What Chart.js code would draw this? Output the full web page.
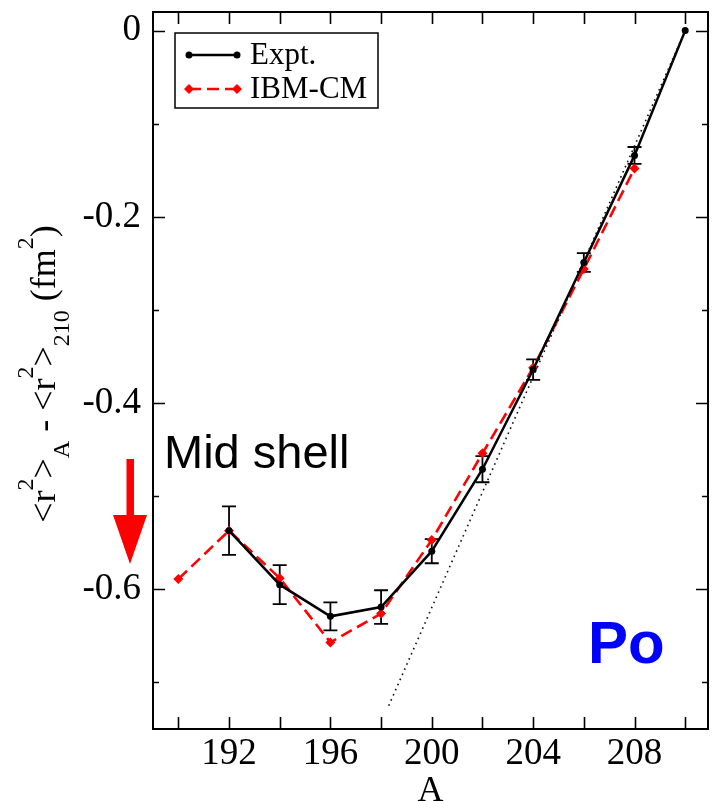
<!DOCTYPE html>
<html>
<head>
<meta charset="utf-8">
<script src="https://cdn.jsdelivr.net/npm/chart.js@4.4.1/dist/chart.umd.min.js"></script>
<style>
html, body { margin: 0; padding: 0; background: #fff; }
#wrap { width: 713px; height: 801px; position: relative; }
</style>
</head>
<body>
<div id="wrap"><canvas id="radii"></canvas></div>
<script>
// mass numbers and charge-radius differences (fm^2)
const exptA = [192, 194, 196, 198, 200, 202, 204, 206, 208, 210];
const exptVals = [-0.537, -0.595, -0.629, -0.619, -0.559, -0.471, -0.364, -0.249, -0.134, 0];
const exptErr = [0.026, 0.021, 0.015, 0.018, 0.013, 0.014, 0.011, 0.010, 0.009, 0];

const ibmA = [190, 192, 194, 196, 198, 200, 202, 204, 206, 208];
const ibmVals = [-0.589, -0.537, -0.588, -0.657, -0.626, -0.547, -0.454, -0.362, -0.256, -0.148];

// straight-line trend through the heavy end
const trendA = [198.3, 210];
const trendVals = [-0.725, 0];

const xTickLabels = [192, 196, 200, 204, 208];
const xTickMarks = [190, 192, 194, 196, 198, 200, 202, 204, 206, 208, 210];
const yTickLabels = [0, -0.2, -0.4, -0.6];
const yMinorTicks = [-0.1, -0.3, -0.5, -0.7];

const SERIF = '"Liberation Serif", "Times New Roman", serif';
const SANS = '"Liberation Sans", Arial, sans-serif';

const pts = (xs, ys) => xs.map((x, i) => ({ x, y: ys[i] }));

// frame + inward ticks on all four sides
const framePlugin = {
    id: 'frame',
    afterDraw(chart) {
        const { ctx, chartArea: a, scales: { x, y } } = chart;
        ctx.save();
        ctx.strokeStyle = '#000';
        ctx.lineWidth = 2;
        ctx.strokeRect(a.left, a.top, a.right - a.left, a.bottom - a.top);
        ctx.lineWidth = 1.6;
        ctx.beginPath();
        xTickMarks.forEach(v => {
            const px = Math.round(x.getPixelForValue(v)) + 0.5;
            ctx.moveTo(px, a.bottom); ctx.lineTo(px, a.bottom - 12);
            ctx.moveTo(px, a.top); ctx.lineTo(px, a.top + 12);
        });
        yTickLabels.forEach(v => {
            const py = Math.round(y.getPixelForValue(v)) + 0.5;
            ctx.moveTo(a.left, py); ctx.lineTo(a.left + 12, py);
            ctx.moveTo(a.right, py); ctx.lineTo(a.right - 12, py);
        });
        yMinorTicks.forEach(v => {
            const py = Math.round(y.getPixelForValue(v)) + 0.5;
            ctx.moveTo(a.left, py); ctx.lineTo(a.left + 6, py);
            ctx.moveTo(a.right, py); ctx.lineTo(a.right - 6, py);
        });
        ctx.stroke();
        ctx.restore();
    }
};

const errorBars = {
    id: 'errorBars',
    beforeDatasetsDraw(chart) {
        const { ctx, scales: { x, y } } = chart;
        ctx.save();
        ctx.strokeStyle = '#000';
        ctx.lineWidth = 1.8;
        ctx.beginPath();
        exptA.forEach((a, i) => {
            if (!exptErr[i]) return;
            const px = x.getPixelForValue(a);
            const top = y.getPixelForValue(exptVals[i] + exptErr[i]);
            const bot = y.getPixelForValue(exptVals[i] - exptErr[i]);
            ctx.moveTo(px, top); ctx.lineTo(px, bot);
            ctx.moveTo(px - 7, top); ctx.lineTo(px + 7, top);
            ctx.moveTo(px - 7, bot); ctx.lineTo(px + 7, bot);
        });
        ctx.stroke();
        ctx.restore();
    }
};

// boxed legend with line samples and end markers
const boxLegend = {
    id: 'boxLegend',
    afterDraw(chart) {
        const { ctx, chartArea: a } = chart;
        const bx = a.left + 22, by = a.top + 21, bw = 203, bh = 75;
        ctx.save();
        ctx.strokeStyle = '#000';
        ctx.lineWidth = 1.5;
        ctx.strokeRect(bx, by, bw, bh);
        const rows = chart.data.datasets.filter(d => d.inLegend);
        rows.forEach((d, i) => {
            const ry = by + 22 + i * 34;
            const x0 = bx + 14, x1 = bx + 62;
            ctx.strokeStyle = d.borderColor;
            ctx.lineWidth = d.borderWidth;
            ctx.setLineDash(d.borderDash || []);
            ctx.beginPath();
            ctx.moveTo(x0, ry); ctx.lineTo(x1, ry);
            ctx.stroke();
            ctx.setLineDash([]);
            ctx.fillStyle = d.pointBackgroundColor;
            [x0, x1].forEach(px => {
                ctx.beginPath();
                if (d.pointStyle === 'rectRot') {
                    const r = d.pointRadius;
                    ctx.moveTo(px, ry - r); ctx.lineTo(px + r, ry);
                    ctx.lineTo(px, ry + r); ctx.lineTo(px - r, ry);
                    ctx.closePath();
                } else {
                    ctx.arc(px, ry, d.pointRadius, 0, Math.PI * 2);
                }
                ctx.fill();
            });
            ctx.fillStyle = '#000';
            ctx.font = '31px ' + SERIF;
            ctx.textBaseline = 'middle';
            ctx.fillText(d.label, bx + 75, ry + 1);
        });
        ctx.restore();
    }
};

// y title with super/subscripts, read bottom to top
const yTitle = {
    id: 'yTitle',
    afterDraw(chart) {
        const { ctx } = chart;
        const parts = [
            ['<r', 0], ['2', 1], ['>', 0], ['A', -1], [' - <r', 0], ['2', 1], ['>', 0],
            ['210', -1], [' (fm', 0], ['2', 1], [')', 0]
        ];
        const big = '36px ' + SERIF, small = '24px ' + SERIF;
        ctx.save();
        let total = 0;
        parts.forEach(([t, k]) => { ctx.font = k ? small : big; total += ctx.measureText(t).width; });
        ctx.translate(55, 374);
        ctx.rotate(-Math.PI / 2);
        ctx.fillStyle = '#000';
        ctx.textBaseline = 'alphabetic';
        let cx = -total / 2;
        parts.forEach(([t, k]) => {
            ctx.font = k ? small : big;
            const dy = k === 1 ? -22 : k === -1 ? 14 : 0;
            ctx.fillText(t, cx, dy);
            cx += ctx.measureText(t).width;
        });
        ctx.restore();
    }
};

const notes = {
    id: 'notes',
    afterDraw(chart) {
        const { ctx } = chart;
        ctx.save();
        ctx.fillStyle = '#000';
        ctx.font = '47px ' + SANS;
        ctx.textBaseline = 'alphabetic';
        ctx.fillText('Mid shell', 164, 468);

        ctx.fillStyle = '#ff0000';
        ctx.beginPath();
        ctx.moveTo(126.5, 459); ctx.lineTo(134, 459); ctx.lineTo(134, 515);
        ctx.lineTo(147, 515); ctx.lineTo(130, 564); ctx.lineTo(113, 515);
        ctx.lineTo(126.5, 515);
        ctx.closePath();
        ctx.fill();

        ctx.fillStyle = '#0000ff';
        ctx.font = 'bold 60px ' + SANS;
        ctx.fillText('Po', 588, 663);
        ctx.restore();
    }
};

new Chart(document.getElementById('radii'), {
    type: 'line',
    data: {
        datasets: [
            {
                label: 'trend',
                data: pts(trendA, trendVals),
                borderColor: '#111',
                borderWidth: 1.6,
                borderDash: [1.6, 4],
                pointRadius: 0,
                fill: false
            },
            {
                label: 'Expt.',
                inLegend: true,
                data: pts(exptA, exptVals),
                borderColor: '#000',
                borderWidth: 2.5,
                pointRadius: 3.5,
                pointBackgroundColor: '#000',
                pointBorderWidth: 0,
                fill: false
            },
            {
                label: 'IBM-CM',
                inLegend: true,
                data: pts(ibmA, ibmVals),
                borderColor: '#ff0000',
                borderWidth: 2.6,
                borderDash: [12, 6],
                pointStyle: 'rectRot',
                pointRadius: 5,
                pointBackgroundColor: '#ff0000',
                pointBorderWidth: 0,
                fill: false
            }
        ]
    },
    options: {
        responsive: true,
        maintainAspectRatio: false,
        animation: false,
        devicePixelRatio: 1,
        layout: { padding: { top: 12, right: 5, left: 0, bottom: 0 } },
        plugins: {
            legend: { display: false },
            tooltip: { enabled: false }
        },
        scales: {
            x: {
                type: 'linear',
                min: 189,
                max: 210.9,
                grid: { display: false, drawTicks: false },
                border: { display: false },
                afterBuildTicks: s => { s.ticks = xTickLabels.map(v => ({ value: v })); },
                afterFit: s => {
                    s.height = 72;
                    s.paddingLeft = 0; s.paddingRight = 0;
                },
                ticks: {
                    color: '#000',
                    font: { family: SERIF, size: 37 },
                    padding: 3,
                    maxRotation: 0
                },
                title: {
                    display: true,
                    text: 'A',
                    color: '#000',
                    font: { family: SERIF, size: 36, lineHeight: 1 },
                    padding: { top: 0, bottom: -9 }
                }
            },
            y: {
                min: -0.75,
                max: 0.02,
                grid: { display: false, drawTicks: false },
                border: { display: false },
                afterBuildTicks: s => { s.ticks = yTickLabels.map(v => ({ value: v })); },
                afterFit: s => {
                    s.width = 153;
                    s.paddingTop = 0; s.paddingBottom = 0;
                },
                ticks: {
                    color: '#000',
                    font: { family: SERIF, size: 37 },
                    padding: 12,
                    callback: v => (v === 0 ? '0' : v.toFixed(1))
                }
            }
        }
    },
    plugins: [framePlugin, errorBars, boxLegend, yTitle, notes]
});
</script>
</body>
</html>
